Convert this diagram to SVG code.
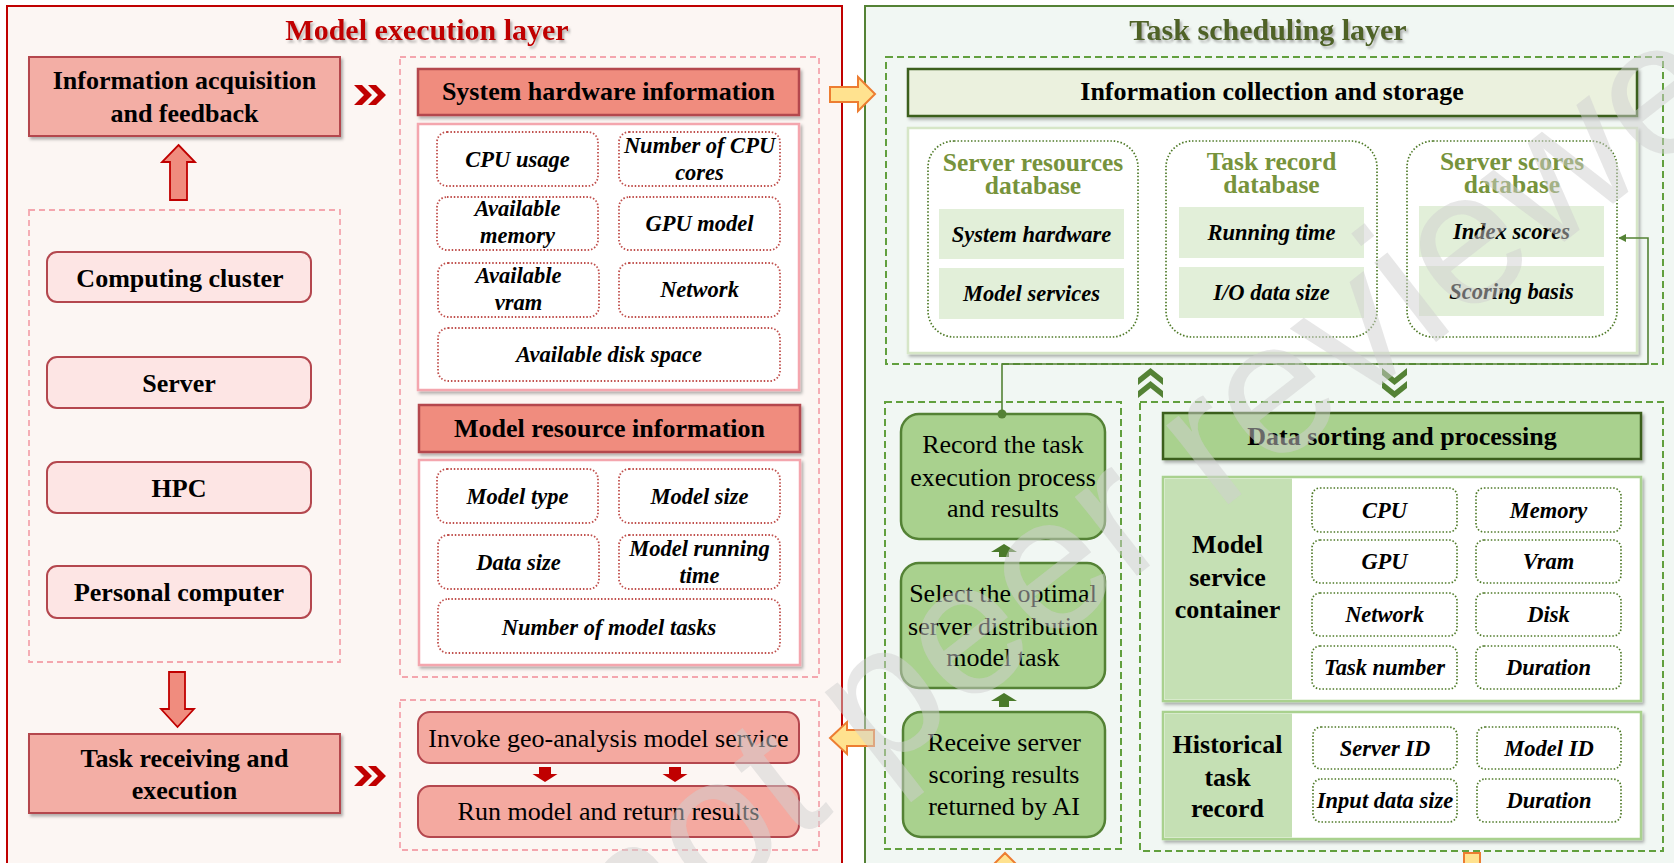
<svg xmlns="http://www.w3.org/2000/svg" width="1674" height="863" viewBox="0 0 1674 863">
  <defs>
    <filter id="sh" x="-5%" y="-5%" width="115%" height="120%">
      <feDropShadow dx="2" dy="2.5" stdDeviation="1.5" flood-color="#000" flood-opacity="0.3"/>
    </filter>
    <filter id="tsh" x="-5%" y="-20%" width="110%" height="150%">
      <feDropShadow dx="2" dy="2.5" stdDeviation="1.2" flood-color="#777" flood-opacity="0.55"/>
    </filter>
    <marker id="ahG" viewBox="0 0 10 10" refX="9" refY="5" markerWidth="8" markerHeight="8" orient="auto" markerUnits="userSpaceOnUse">
      <path d="M0,0 L10,5 L0,10 Z" fill="#548235"/>
    </marker>
    <style>
      .b{font-family:"Liberation Serif","Times New Roman",serif;font-weight:bold;text-anchor:middle;fill:#000}
      .h{font-size:26px}
      .bi{font-family:"Liberation Serif","Times New Roman",serif;font-weight:bold;font-style:italic;font-size:22.5px;text-anchor:middle;fill:#000}
      .r{font-family:"Liberation Serif","Times New Roman",serif;font-size:26px;text-anchor:middle;fill:#000}
      .redbox{fill:#F3AEA5;stroke:#B4474E;stroke-width:2}
      .redhead{fill:#F08C7E;stroke:#B4474E;stroke-width:2.5}
      .dev{fill:#FDE5E4;stroke:#B4474E;stroke-width:2}
      .pinkdash{fill:none;stroke:#F4A6AE;stroke-width:1.8;stroke-dasharray:6 4}
      .whiteR{fill:#fff;stroke:#F4A6AE;stroke-width:2.5}
      .dotR{fill:#fff;stroke:#C0504D;stroke-width:1.8;stroke-dasharray:1.5 1.9}
      .svc{fill:#F4A9A0;stroke:#B4474E;stroke-width:2}
      .greendash{fill:none;stroke:#62A03E;stroke-width:2;stroke-dasharray:7 4}
      .whiteG{fill:#fff;stroke:#D6E6C7;stroke-width:2.5}
      .dotG{fill:#fff;stroke:#4F7A28;stroke-width:1.7;stroke-dasharray:1.5 1.9}
      .sub{fill:#E2EFD9}
      .dbt{font-family:"Liberation Serif","Times New Roman",serif;font-weight:bold;font-size:25.5px;text-anchor:middle;fill:#77933C}
      .gbox{fill:#A9D18E;stroke:#548235;stroke-width:2.5}
      .ghead{fill:#A9D18E;stroke:#3B5E1F;stroke-width:2.5}
      .sect{fill:#fff;stroke:#A9D18E;stroke-width:2.5}
      .lab{fill:#C5E0B4}
      .orange{fill:#FFE28F;stroke:#ED7D31;stroke-width:2}
      .redarrow{fill:#F08C7E;stroke:#C00000;stroke-width:1.8}
    </style>
  </defs>

  <!-- layer panels -->
  <rect x="7" y="6" width="835" height="880" fill="#FCF6F3" stroke="#C00000" stroke-width="2"/>
  <rect x="865" y="6" width="830" height="880" fill="#F1F7F3" stroke="#548235" stroke-width="2"/>

  <text id="title-exec" class="b" x="427" y="40" font-size="30" style="fill:#C00000" filter="url(#tsh)">Model execution layer</text>
  <text id="title-sched" class="b" x="1268" y="40" font-size="30" style="fill:#4F6228" filter="url(#tsh)">Task scheduling layer</text>

  <!-- ===== Model execution layer ===== -->
  <g id="info-acq">
    <rect class="redbox" x="29" y="57" width="311" height="79" filter="url(#sh)"/>
    <text class="b h" x="184.5" y="89">Information acquisition</text>
    <text class="b h" x="184.5" y="122">and feedback</text>
  </g>

  <g id="devices">
    <rect class="pinkdash" x="29" y="210" width="311" height="452"/>
    <g id="dev-cluster">
      <rect class="dev" x="47" y="252" width="264" height="50" rx="10"/>
      <text class="b h" x="180" y="287">Computing cluster</text>
    </g>
    <g id="dev-server">
      <rect class="dev" x="47" y="357" width="264" height="51" rx="10"/>
      <text class="b h" x="179" y="392">Server</text>
    </g>
    <g id="dev-hpc">
      <rect class="dev" x="47" y="462" width="264" height="51" rx="10"/>
      <text class="b h" x="179" y="497">HPC</text>
    </g>
    <g id="dev-pc">
      <rect class="dev" x="47" y="566" width="264" height="52" rx="10"/>
      <text class="b h" x="179" y="601">Personal computer</text>
    </g>
  </g>

  <g id="task-recv">
    <rect class="redbox" x="29" y="734" width="311" height="79" filter="url(#sh)"/>
    <text class="b h" x="184.5" y="767">Task receiving and</text>
    <text class="b h" x="184.5" y="799">execution</text>
  </g>

  <g id="hw-info">
    <rect class="pinkdash" x="400" y="57" width="419" height="620"/>
    <rect class="redhead" x="418" y="69" width="381" height="46" filter="url(#sh)"/>
    <text class="b h" x="608.5" y="100">System hardware information</text>
    <rect class="whiteR" x="418" y="124" width="381" height="266" filter="url(#sh)"/>
    <rect class="dotR" x="437" y="132" width="161" height="54" rx="10"/>
    <text class="bi" x="517.5" y="167">CPU usage</text>
    <rect class="dotR" x="619" y="132" width="161" height="54" rx="10"/>
    <text class="bi" x="699.5" y="153">Number of CPU</text>
    <text class="bi" x="699.5" y="180">cores</text>
    <rect class="dotR" x="437" y="197" width="161" height="53" rx="10"/>
    <text class="bi" x="517.5" y="216">Available</text>
    <text class="bi" x="517.5" y="243">memory</text>
    <rect class="dotR" x="619" y="197" width="161" height="53" rx="10"/>
    <text class="bi" x="699.5" y="231">GPU model</text>
    <rect class="dotR" x="438" y="263" width="161" height="54" rx="10"/>
    <text class="bi" x="518.5" y="283">Available</text>
    <text class="bi" x="518.5" y="310">vram</text>
    <rect class="dotR" x="619" y="263" width="161" height="54" rx="10"/>
    <text class="bi" x="699.5" y="297">Network</text>
    <rect class="dotR" x="438" y="328" width="342" height="53" rx="10"/>
    <text class="bi" x="609" y="362">Available disk space</text>
  </g>

  <g id="model-info">
    <rect class="redhead" x="419" y="405" width="381" height="47" filter="url(#sh)"/>
    <text class="b h" x="609.5" y="437">Model resource information</text>
    <rect class="whiteR" x="419" y="460" width="381" height="205" filter="url(#sh)"/>
    <rect class="dotR" x="437" y="469" width="161" height="54" rx="10"/>
    <text class="bi" x="517.5" y="504">Model type</text>
    <rect class="dotR" x="619" y="469" width="161" height="54" rx="10"/>
    <text class="bi" x="699.5" y="504">Model size</text>
    <rect class="dotR" x="438" y="535" width="161" height="54" rx="10"/>
    <text class="bi" x="518.5" y="570">Data size</text>
    <rect class="dotR" x="619" y="535" width="161" height="54" rx="10"/>
    <text class="bi" x="699.5" y="556">Model running</text>
    <text class="bi" x="699.5" y="583">time</text>
    <rect class="dotR" x="438" y="599" width="342" height="54" rx="10"/>
    <text class="bi" x="609" y="635">Number of model tasks</text>
  </g>

  <g id="model-run">
    <rect class="pinkdash" x="400" y="700" width="419" height="150"/>
    <g id="invoke">
      <rect class="svc" x="418" y="712" width="381" height="51" rx="12"/>
      <text class="r" x="608.5" y="747">Invoke geo-analysis model service</text>
    </g>
    <g id="run">
      <rect class="svc" x="418" y="786" width="381" height="51" rx="12"/>
      <text class="r" x="608.5" y="820">Run model and return results</text>
    </g>
  </g>

  <!-- ===== Task scheduling layer ===== -->
  <g id="collect">
    <rect class="greendash" x="886" y="57" width="777" height="307"/>
    <rect x="908" y="69" width="729" height="47" fill="#EBF1DE" stroke="#3B5E1F" stroke-width="2.5" filter="url(#sh)"/>
    <text class="b h" x="1272" y="100">Information collection and storage</text>
    <rect class="whiteG" x="908" y="128" width="729" height="225" filter="url(#sh)"/>
  </g>

  <g id="db-server">
    <rect class="dotG" x="928" y="141" width="210" height="196" rx="26"/>
    <text class="dbt" x="1033" y="171">Server resources</text>
    <text class="dbt" x="1033" y="194">database</text>
    <rect class="sub" x="939" y="209" width="185" height="50"/>
    <text class="bi" x="1031.5" y="242">System hardware</text>
    <rect class="sub" x="939" y="268" width="185" height="51"/>
    <text class="bi" x="1031.5" y="301">Model services</text>
  </g>
  <g id="db-task">
    <rect class="dotG" x="1166" y="141" width="211" height="196" rx="26"/>
    <text class="dbt" x="1271.5" y="170">Task record</text>
    <text class="dbt" x="1271.5" y="193">database</text>
    <rect class="sub" x="1179" y="207" width="185" height="51"/>
    <text class="bi" x="1271.5" y="240">Running time</text>
    <rect class="sub" x="1179" y="267" width="185" height="51"/>
    <text class="bi" x="1271.5" y="300">I/O data size</text>
  </g>
  <g id="db-scores">
    <rect class="dotG" x="1407" y="141" width="210" height="196" rx="26"/>
    <text class="dbt" x="1512" y="170">Server scores</text>
    <text class="dbt" x="1512" y="193">database</text>
    <rect class="sub" x="1419" y="206" width="185" height="51"/>
    <text class="bi" x="1511.5" y="239">Index scores</text>
    <rect class="sub" x="1419" y="266" width="185" height="50"/>
    <text class="bi" x="1511.5" y="299">Scoring basis</text>
  </g>

  <g id="ai-steps">
    <rect class="greendash" x="885" y="402" width="236" height="447"/>
    <g id="record">
      <rect class="gbox" x="901" y="414" width="204" height="125" rx="18"/>
      <text class="r" x="1003" y="453">Record the task</text>
      <text class="r" x="1003" y="486">execution process</text>
      <text class="r" x="1003" y="517">and results</text>
    </g>
    <g id="select">
      <rect class="gbox" x="901" y="563" width="204" height="125" rx="18"/>
      <text class="r" x="1003" y="602">Select the optimal</text>
      <text class="r" x="1003" y="635">server distribution</text>
      <text class="r" x="1003" y="666">model task</text>
    </g>
    <g id="receive">
      <rect class="gbox" x="903" y="712" width="202" height="125" rx="18"/>
      <text class="r" x="1004" y="751">Receive server</text>
      <text class="r" x="1004" y="783">scoring results</text>
      <text class="r" x="1004" y="815">returned by AI</text>
    </g>
  </g>

  <g id="sorting">
    <rect class="greendash" x="1140" y="402" width="523" height="449"/>
    <rect class="ghead" x="1163" y="413" width="478" height="46" filter="url(#sh)"/>
    <text class="b h" x="1402" y="445">Data sorting and processing</text>
  </g>

  <g id="container">
    <rect class="sect" x="1163" y="477" width="478" height="224" filter="url(#sh)"/>
    <rect class="lab" x="1164.5" y="478.5" width="127.5" height="221"/>
    <text class="b h" x="1227.5" y="553">Model</text>
    <text class="b h" x="1227.5" y="586">service</text>
    <text class="b h" x="1227.5" y="618">container</text>
    <rect class="dotG" x="1312" y="488" width="145" height="44" rx="8"/>
    <text class="bi" x="1384.5" y="518">CPU</text>
    <rect class="dotG" x="1476" y="488" width="145" height="44" rx="8"/>
    <text class="bi" x="1548.5" y="518">Memory</text>
    <rect class="dotG" x="1312" y="540" width="145" height="43" rx="8"/>
    <text class="bi" x="1384.5" y="569">GPU</text>
    <rect class="dotG" x="1476" y="540" width="145" height="43" rx="8"/>
    <text class="bi" x="1548.5" y="569">Vram</text>
    <rect class="dotG" x="1312" y="593" width="145" height="43" rx="8"/>
    <text class="bi" x="1384.5" y="622">Network</text>
    <rect class="dotG" x="1476" y="593" width="145" height="43" rx="8"/>
    <text class="bi" x="1548.5" y="622">Disk</text>
    <rect class="dotG" x="1312" y="646" width="145" height="43" rx="8"/>
    <text class="bi" x="1384.5" y="675">Task number</text>
    <rect class="dotG" x="1476" y="646" width="145" height="43" rx="8"/>
    <text class="bi" x="1548.5" y="675">Duration</text>
  </g>

  <g id="history">
    <rect class="sect" x="1163" y="712" width="478" height="127" filter="url(#sh)"/>
    <rect class="lab" x="1164.5" y="713.5" width="127.5" height="124"/>
    <text class="b h" x="1227.5" y="753">Historical</text>
    <text class="b h" x="1227.5" y="786">task</text>
    <text class="b h" x="1227.5" y="817">record</text>
    <rect class="dotG" x="1313" y="727" width="144" height="42" rx="8"/>
    <text class="bi" x="1385" y="756">Server ID</text>
    <rect class="dotG" x="1477" y="727" width="144" height="42" rx="8"/>
    <text class="bi" x="1549" y="756">Model ID</text>
    <rect class="dotG" x="1313" y="779" width="144" height="43" rx="8"/>
    <text class="bi" x="1385" y="808">Input data size</text>
    <rect class="dotG" x="1477" y="779" width="144" height="43" rx="8"/>
    <text class="bi" x="1549" y="808">Duration</text>
  </g>

  <!-- ===== connectors ===== -->
  <g id="connectors">
    <!-- block arrows between the device pool and the two function boxes -->
    <polygon class="redarrow" points="178.5,145 195,162 187,162 187,200 170,200 170,162 162,162"/>
    <polygon class="redarrow" points="169,672 185,672 185,709 194,709 177.5,727 161,709 169,709"/>
    <!-- double chevrons -->
    <g fill="#C00000">
      <polygon points="354,85 362,85 372,95 362,105 354,105 364,95"/>
      <polygon points="368,85 376,85 386,95 376,105 368,105 378,95"/>
      <polygon points="354,766 362,766 372,776 362,786 354,786 364,776"/>
      <polygon points="368,766 376,766 386,776 376,786 368,786 378,776"/>
    </g>
    <!-- invoke to run -->
    <g fill="#C00000">
      <polygon points="539,767 551,767 551,774 557.5,774 545,782 532.5,774 539,774"/>
      <polygon points="669,767 681,767 681,774 687.5,774 675,782 662.5,774 669,774"/>
    </g>
    <!-- between layers -->
    <polygon class="orange" points="830,87 858,87 858,77 875,94 858,111 858,102 830,102"/>
    <polygon class="orange" points="874,730 847,730 847,722 830,738 847,754 847,746 874,746"/>
    <polygon class="orange" points="1005,853 1027,875 1016,875 1016,895 994,895 994,875 983,875"/>
    <rect class="orange" x="1464" y="853" width="16" height="40"/>
    <!-- storage / processing exchange -->
    <g fill="#548235">
      <polygon points="1150.5,368 1163,378 1163,385 1150.5,375 1138,385 1138,378"/>
      <polygon points="1150.5,381 1163,391 1163,398 1150.5,388 1138,398 1138,391"/>
      <polygon points="1394.5,385 1407,375 1407,368 1394.5,378 1382,368 1382,375"/>
      <polygon points="1394.5,398 1407,388 1407,381 1394.5,391 1382,381 1382,388"/>
    </g>
    <!-- AI step order -->
    <g fill="#4A7A2A">
      <polygon points="1004,544 1017,552 1009,552 1009,557 999,557 999,552 991,552"/>
      <polygon points="1004,693 1017,701 1009,701 1009,707 999,707 999,701 991,701"/>
    </g>
    <!-- record feedback to scores database -->
    <path d="M1002,414 V364 H1648 V238 H1619" fill="none" stroke="#548235" stroke-width="1.6" marker-end="url(#ahG)"/>
    <circle cx="1002" cy="414" r="4.5" fill="#548235"/>
  </g>

  <!-- preprint watermark -->
  <text x="0" y="0" transform="translate(627,974) rotate(-38)" font-family="Liberation Sans, Arial, sans-serif" font-size="190" fill="#CFCFCF" fill-opacity="0.5">not peer reviewed</text>
</svg>
